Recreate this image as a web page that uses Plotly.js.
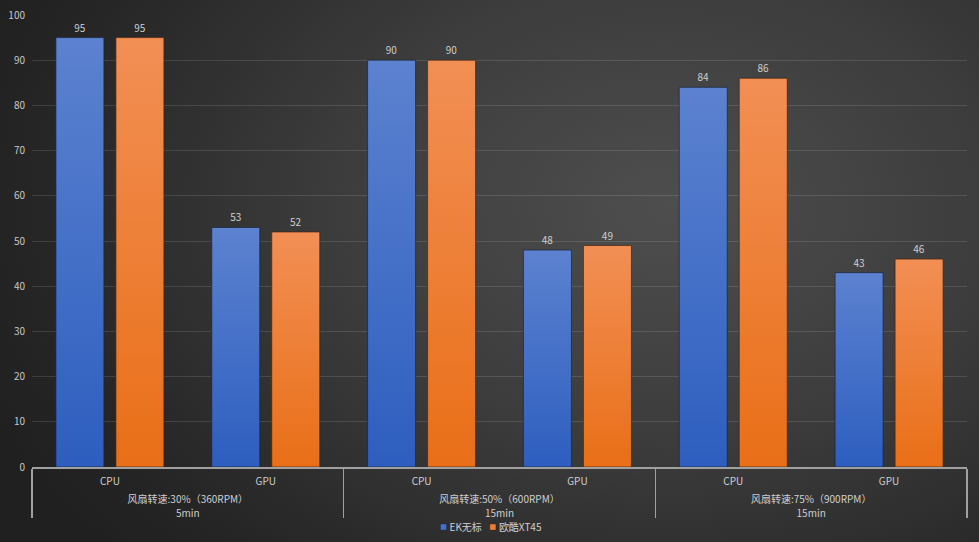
<!DOCTYPE html>
<html>
<head>
<meta charset="utf-8">
<script src="https://cdn.plot.ly/plotly-3.0.1.min.js"></script>
<style>
html,body{margin:0;padding:0;width:979px;height:542px;overflow:hidden;
background: radial-gradient(ellipse 75% 95% at 68% 38%, #4e4e4e 0%, #3c3c3c 45%, #262626 85%, #202020 100%);}
#chart{width:979px;height:542px;}
</style>
</head>
<body>
<div id="chart"></div>
<script>
const groups = ["风扇转速:30%（360RPM）<br>5min","风扇转速:30%（360RPM）<br>5min",
                "风扇转速:50%（600RPM）<br>15min","风扇转速:50%（600RPM）<br>15min",
                "风扇转速:75%（900RPM）<br>15min","风扇转速:75%（900RPM）<br>15min"];
const parts = ["CPU","GPU","CPU","GPU","CPU","GPU"];
const seriesNames = ["EK无标","欧酷XT45"];
const ekValues = [95,53,90,48,84,43];
const xt45Values = [95,52,90,49,86,46];
const yTicks = [0,10,20,30,40,50,60,70,80,90,100];

const font = {family:'"Noto Sans CJK SC","Noto Sans",sans-serif', size:10, color:'#cfcfcf'};
const traces = [
  {type:'bar', name:seriesNames[0], x:[groups,parts], y:ekValues, text:ekValues.map(String),
   textposition:'outside', textfont:{size:10,color:'#cfcfcf'}, cliponaxis:false,
   marker:{color:'#4472c4', line:{color:'rgba(25,35,60,0.7)', width:1}}},
  {type:'bar', name:seriesNames[1], x:[groups,parts], y:xt45Values, text:xt45Values.map(String),
   textposition:'outside', textfont:{size:10,color:'#cfcfcf'}, cliponaxis:false,
   marker:{color:'#ed7d31', line:{color:'rgba(70,35,15,0.7)', width:1}}}
];
const layout = {
  width:979, height:542,
  paper_bgcolor:'rgba(0,0,0,0)', plot_bgcolor:'rgba(0,0,0,0)',
  margin:{l:32, r:12, t:15, b:75, autoexpand:false},
  font:font,
  bargap:0.23, bargroupgap:0.2, barmode:'group',
  showlegend:true,
  legend:{orientation:'h', x:0.5, xanchor:'center', y:-0.133, yanchor:'middle',
          font:{size:10,color:'#cfcfcf'}, itemwidth:30, bgcolor:'rgba(0,0,0,0)'},
  xaxis:{type:'multicategory', showline:true, linecolor:'#a0a0a0', linewidth:1.5,
         showdividers:true, dividercolor:'#a0a0a0', dividerwidth:1.5, ticklabelstandoff:4,
         tickfont:{size:10,color:'#cfcfcf'}, ticks:'', showgrid:false},
  yaxis:{range:[0,100], tickvals:yTicks, ticktext:yTicks.map(String), showline:false,
         gridcolor:'rgba(255,255,255,0.12)', gridwidth:1, zeroline:false, ticklabelstandoff:6,
         tickfont:{size:10,color:'#c8c8c8'}, ticklen:0, ticks:''}
};
Plotly.newPlot('chart', traces, layout, {displayModeBar:false, staticPlot:true}).then(function(gd){
  const svg = gd.querySelector('svg.main-svg');
  const ns = 'http://www.w3.org/2000/svg';
  let defs = svg.querySelector('defs');
  if(!defs){defs = document.createElementNS(ns,'defs'); svg.insertBefore(defs, svg.firstChild);}
  function grad(id, top, bottom){
    const g = document.createElementNS(ns,'linearGradient');
    g.setAttribute('id',id); g.setAttribute('x1','0'); g.setAttribute('y1','0');
    g.setAttribute('x2','0'); g.setAttribute('y2','1');
    [[0,top],[1,bottom]].forEach(function(s){
      const st = document.createElementNS(ns,'stop');
      st.setAttribute('offset',s[0]); st.setAttribute('stop-color',s[1]);
      g.appendChild(st);
    });
    defs.appendChild(g);
  }
  grad('gBlue','#5c82d0','#2d5ebf');
  grad('gOrange','#f28f55','#e96f17');
  const tr = gd.querySelectorAll('.barlayer .trace');
  const ids = ['gBlue','gOrange'];
  tr.forEach(function(t,i){
    t.querySelectorAll('path').forEach(function(p){ p.style.fill = 'url(#'+ids[i]+')'; });
  });
  // outer group labels: a little lower, slightly wider line spacing
  gd.querySelectorAll('.xtick2 text').forEach(function(t){
    t.querySelectorAll('tspan.line').forEach(function(ts){
      if (ts.getAttribute('dy') && parseFloat(ts.getAttribute('dy')) !== 0) ts.setAttribute('dy','1.45em');
    });
    const prev = t.getAttribute('transform') || '';
    t.setAttribute('transform', prev + ' translate(0,5)');
  });
  // longer dividers
  gd.querySelectorAll('path.xdivider').forEach(function(p){
    const d = p.getAttribute('d');
    const nd = d.replace(/v([-\d.]+)/, function(_, v){ return 'v' + (parseFloat(v) + (parseFloat(v) >= 0 ? 4 : -4)); });
    p.setAttribute('d', nd);
  });
  // compact legend: small squares close to the text
  const entries = Array.from(gd.querySelectorAll('.legend .traces'));
  const info = entries.map(function(e){
    const t = e.querySelector('.legendtext');
    const pts = e.querySelector('.legendpoints');
    const tx = parseFloat(t.getAttribute('x')) || 40;
    pts.setAttribute('transform','translate('+(tx-16)+',0) scale(0.5)');
    const m = /translate\(([-\d.]+)[ ,]+([-\d.]+)\)/.exec(e.getAttribute('transform')||'translate(0,0)');
    return {e:e, tx:tx, w:t.getComputedTextLength(), x:parseFloat(m[1]), y:parseFloat(m[2])};
  });
  if (info.length === 2){
    const a = info[0], b = info[1];
    const start = a.tx - 9;
    const total = (a.tx + a.w + 8 - start) + (b.tx + b.w - (b.tx - 9));
    const legRoot = gd.querySelector('.legend');
    const lm = /translate\(([-\d.]+)[ ,]+([-\d.]+)\)/.exec(legRoot.getAttribute('transform'));
    const lx = lm ? parseFloat(lm[1]) : 0;
    const ax = 491 - total/2 - lx - start;
    a.e.setAttribute('transform','translate('+ax+','+a.y+')');
    const bx = ax + a.tx + a.w + 8 - (b.tx - 9);
    b.e.setAttribute('transform','translate('+bx+','+b.y+')');
    const bg = gd.querySelector('.legend .bg'); if (bg) bg.style.display='none';
  }
});
</script>
</body>
</html>
